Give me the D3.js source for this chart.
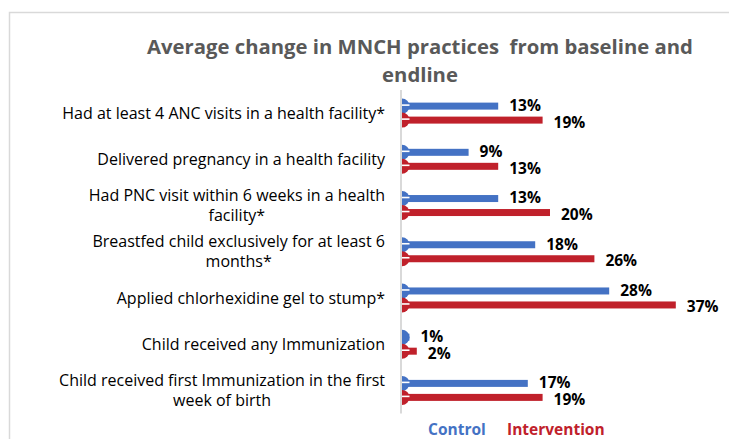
<!DOCTYPE html>
<html lang="en">
<head>
  <meta charset="utf-8">
  <title>Average change in MNCH practices</title>
  <script src="https://d3js.org/d3.v7.min.js"></script>
  <style>
    body { margin: 0; background: #fff; }
    svg { display: block; font-family: "Open Sans", sans-serif; }
  </style>
</head>
<body>
<script>
// categories (each one split into its printed lines)
var categories = [
  ["Had at least 4 ANC visits in a health facility*"],
  ["Delivered pregnancy in a health facility"],
  ["Had PNC visit within 6 weeks in a health", "facility*"],
  ["Breastfed child exclusively for at least 6", "months*"],
  ["Applied chlorhexidine gel to stump*"],
  ["Child received any Immunization"],
  ["Child received first Immunization in the first", "week of birth"]
];
var seriesNames = ["Control", "Intervention"];
var control = [13, 9, 13, 18, 28, 1, 17];
var intervention = [19, 13, 20, 26, 37, 2, 19];
var colors = ["#4472C4", "#C0212B"];

var w = 729, h = 439;

var svg = d3.select("body").append("svg")
  .attr("width", w)
  .attr("height", h);

// light frame of the chart area
svg.append("rect")
  .attr("x", 9.5).attr("y", 12.5)
  .attr("width", w).attr("height", h)
  .attr("fill", "none")
  .attr("stroke", "#d9d9d9")
  .attr("stroke-width", 1.5);

// title
var title = svg.append("text")
  .attr("text-anchor", "middle")
  .attr("fill", "#595959")
  .attr("font-weight", "bold")
  .attr("font-size", 20.3)
  .style("white-space", "pre");
title.append("tspan").attr("x", 420).attr("y", 54).text("Average change in MNCH practices  from baseline and");
title.append("tspan").attr("x", 420).attr("y", 82).text("endline");

var x = d3.scaleLinear().domain([0, 40]).range([402, 698]);
var y = d3.scaleBand().domain(d3.range(categories.length)).range([90, 413.5]);
var barH = 7;
var off = 7; // distance of each bar centre from the row centre

// axis line
svg.append("line")
  .attr("x1", 401).attr("x2", 401)
  .attr("y1", y.range()[0]).attr("y2", y.range()[1])
  .attr("stroke", "#d9d9d9")
  .attr("stroke-width", 2);

// category labels
var labels = svg.selectAll(".cat")
  .data(categories)
  .enter().append("text")
  .attr("class", "cat")
  .attr("font-size", 16)
  .attr("fill", "#000");

labels.each(function(lines, i) {
  var t = d3.select(this);
  var cy = y(i) + y.bandwidth() / 2;
  var lh = 20;
  var first = t.append("tspan")
    .attr("x", 385)
    .attr("y", cy - (lines.length - 1) * lh / 2)
    .attr("dy", "0.35em")
    .attr("text-anchor", "end")
    .text(lines[0]);
  var len = first.node().getComputedTextLength();
  for (var k = 1; k < lines.length; k++) {
    t.append("tspan")
      .attr("x", 385 - len / 2)
      .attr("y", cy - (lines.length - 1) * lh / 2 + k * lh)
      .attr("dy", "0.35em")
      .attr("text-anchor", "middle")
      .text(lines[k]);
  }
});

// bars for each series
[control, intervention].forEach(function(vals, s) {
  var g = svg.append("g").attr("class", "series-" + s);
  var cyOf = function(i) { return y(i) + y.bandwidth() / 2 + (s === 0 ? -off : off); };

  g.selectAll("rect")
    .data(vals)
    .enter().append("rect")
    .attr("x", x(0))
    .attr("y", function(d, i) { return cyOf(i) - barH / 2; })
    .attr("width", function(d) { return x(d) - x(0); })
    .attr("height", barH)
    .attr("fill", colors[s]);

  // half-round cap at the base of each bar
  var r = 7.5;
  g.selectAll("path.cap")
    .data(vals)
    .enter().append("path")
    .attr("class", "cap")
    .attr("d", function(d, i) {
      var cx = x(0), cy = cyOf(i);
      return "M" + cx + "," + (cy - r) + " A" + r + "," + r + " 0 0 1 " + cx + "," + (cy + r) + " Z";
    })
    .attr("fill", colors[s]);

  g.selectAll("line.shine")
    .data(vals)
    .enter().append("line")
    .attr("class", "shine")
    .attr("x1", x(0))
    .attr("x2", x(0) + r)
    .attr("y1", function(d, i) { return cyOf(i) - 1; })
    .attr("y2", function(d, i) { return cyOf(i) - 1; })
    .attr("stroke", function(d) { return d > 1 ? "#fff" : "none"; })
    .attr("stroke-width", 1.6);

  g.selectAll("text")
    .data(vals)
    .enter().append("text")
    .attr("x", function(d) { return x(d) + 11; })
    .attr("y", function(d, i) { return cyOf(i) + (s === 0 ? -0.5 : 2); })
    .attr("dy", "0.35em")
    .attr("font-size", 15.5)
    .attr("font-weight", "bold")
    .attr("fill", "#000")
    .text(function(d) { return d + "%"; });
});

// legend
var legendX = [428, 507];
svg.selectAll(".legend")
  .data(seriesNames)
  .enter().append("text")
  .attr("class", "legend")
  .attr("x", function(d, i) { return legendX[i]; })
  .attr("y", 435)
  .attr("font-size", 15.5)
  .attr("font-weight", "bold")
  .attr("fill", function(d, i) { return colors[i]; })
  .text(function(d) { return d; });
</script>
</body>
</html>
